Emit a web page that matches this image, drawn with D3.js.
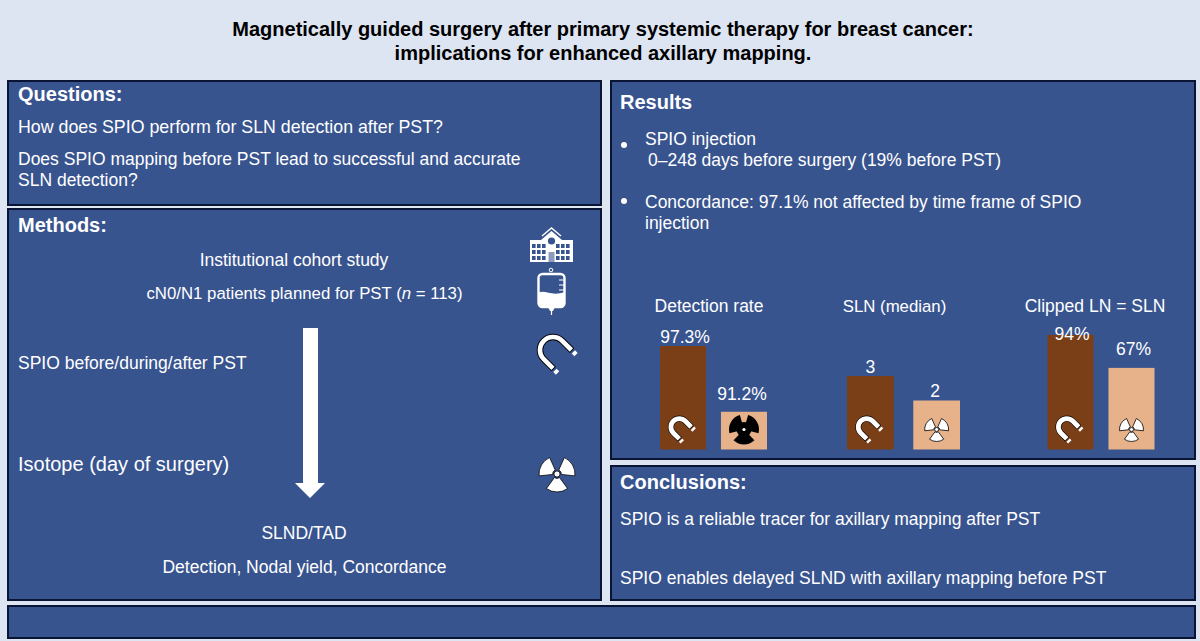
<!DOCTYPE html>
<html>
<head>
<meta charset="utf-8">
<script src="https://cdn.jsdelivr.net/npm/d3@7"></script>
<style>
    html, body { margin: 0; padding: 0; background: #dde4f2; }
    svg { display: block; }
    text { font-family: "Liberation Sans", Arial, sans-serif; fill: #fff; }
</style>
</head>
<body>
<svg id="chart" width="1200" height="641"></svg>
<script>
// Chart values
var groups = ['Detection rate', 'SLN (median)', 'Clipped LN = SLN'];
var tracers = ['SPIO', 'Isotope'];
var detectionRate = [97.3, 91.2];
var slnMedian = [3, 2];
var clippedLn = [94, 67];
var detectionLabels = ['97.3%', '91.2%'];
var slnLabels = ['3', '2'];
var clippedLabels = ['94%', '67%'];

(function() {
    var svg = d3.select('#chart');
    var panelFill = '#38548f', panelStroke = '#0a1533';
    var spioColor = '#7b3f17', isotopeColor = '#e7b189';

    // Panels
    [[8, 81, 593, 124], [8, 209, 593, 391], [611, 81, 584, 378], [611, 466, 584, 134], [8, 606, 1187, 32]].forEach(function(p) {
        svg.append('rect')
            .attr('x', p[0]).attr('y', p[1])
            .attr('width', p[2]).attr('height', p[3])
            .attr('fill', panelFill)
            .attr('stroke', panelStroke)
            .attr('stroke-width', 2);
    });

    var text = function(str, x, y, opts) {
        opts = opts || {};
        return svg.append('text')
            .attr('x', x).attr('y', y)
            .attr('font-size', opts.size || 17.5)
            .attr('font-weight', opts.bold ? 'bold' : 'normal')
            .attr('text-anchor', opts.anchor || 'start')
            .style('fill', opts.fill || '#fff')
            .text(str);
    };

    // Title
    text('Magnetically guided surgery after primary systemic therapy for breast cancer:', 603, 36, {size: 20, bold: true, anchor: 'middle', fill: '#000'});
    text('implications for enhanced axillary mapping.', 603, 60, {size: 20, bold: true, anchor: 'middle', fill: '#000'});

    // Questions
    text('Questions:', 18, 100.7, {size: 20, bold: true});
    text('How does SPIO perform for SLN detection after PST?', 18, 132.7, {size: 17.8});
    text('Does SPIO mapping before PST lead to successful and accurate', 18, 164.7);
    text('SLN detection?', 18, 185.7);

    // Methods
    text('Methods:', 18, 231.7, {size: 20, bold: true});
    text('Institutional cohort study', 294, 265.7, {anchor: 'middle'});
    var cohort = text('cN0/N1 patients planned for PST (', 304.5, 298.7, {anchor: 'middle', size: 16.8});
    cohort.append('tspan').attr('font-style', 'italic').text('n');
    cohort.append('tspan').text(' = 113)');
    text('SPIO before/during/after PST', 18, 368.7);
    text('Isotope (day of surgery)', 18, 471, {size: 20});
    text('SLND/TAD', 304, 538.7, {anchor: 'middle'});
    text('Detection, Nodal yield, Concordance', 304.5, 572.7, {anchor: 'middle'});

    svg.append('path')
        .attr('d', 'M303,328H318V483H325L310,498L295,483H303Z')
        .attr('fill', '#fff');

    // Results
    text('Results', 620, 108.7, {size: 20, bold: true});
    svg.selectAll('circle.bullet').data([145, 201]).enter().append('circle')
        .attr('class', 'bullet')
        .attr('cx', 624).attr('cy', function(d) { return d; })
        .attr('r', 3).attr('fill', '#fff');
    text('SPIO injection', 645, 144.7);
    text('0\u2013248 days before surgery (19% before PST)', 648, 165.7);
    text('Concordance: 97.1% not affected by time frame of SPIO', 645, 207.7);
    text('injection', 645, 228.7);

    // Conclusions
    text('Conclusions:', 620, 488.7, {size: 20, bold: true});
    text('SPIO is a reliable tracer for axillary mapping after PST', 620, 524.7);
    text('SPIO enables delayed SLND with axillary mapping before PST', 620, 583.7);

    // Icons
    var magnet = function(cx, cy, scale, band) {
        var g = svg.append('g')
            .attr('transform', 'translate(' + cx + ',' + cy + ') scale(' + scale + ') rotate(-45)');
        g.append('path').attr('d', 'M-14,15V0A14,14 0 0 1 14,0V15').attr('fill', 'none').attr('stroke', '#000').attr('stroke-width', band + 2);
        g.append('path').attr('d', 'M-14,14V0A14,14 0 0 1 14,0V14').attr('fill', 'none').attr('stroke', '#fff').attr('stroke-width', band);
        g.append('path').attr('d', 'M-14,17V21M14,17V21').attr('fill', 'none').attr('stroke', '#fff').attr('stroke-width', band);
    };

    var radiation = function(cx, cy, r, solid) {
        var g = svg.append('g').attr('transform', 'translate(' + cx + ',' + cy + ')');
        var halfWidth = (solid ? 44 : 36) * Math.PI / 180;
        var arc = d3.arc().innerRadius(solid ? 0 : r * 0.24).outerRadius(r);
        [-60, 60, 180].forEach(function(a) {
            var mid = a * Math.PI / 180;
            g.append('path')
                .attr('d', arc({startAngle: mid - halfWidth, endAngle: mid + halfWidth}))
                .attr('fill', solid ? '#000' : '#fff')
                .attr('stroke', '#000')
                .attr('stroke-width', solid ? 0 : 0.8);
        });
        if (solid) {
            g.append('circle').attr('r', r * 0.5).attr('fill', '#000');
        }
        g.append('circle')
            .attr('r', solid ? 1.6 : r * 0.17)
            .attr('fill', '#fff')
            .attr('stroke', solid ? 'none' : '#000')
            .attr('stroke-width', 0.8);
    };

    // Hospital
    (function() {
        var g = svg.append('g').attr('fill', '#fff');
        g.append('rect').attr('x', 530).attr('y', 240).attr('width', 43).attr('height', 22);
        g.append('path').attr('d', 'M541,240L551.5,231L562,240Z');
        g.append('path').attr('d', 'M542,236L551.5,228L561,236').attr('fill', 'none').attr('stroke', '#fff').attr('stroke-width', 1.4);
        g.append('circle').attr('cx', 551.5).attr('cy', 241).attr('r', 3.6).attr('fill', panelFill);
        [532, 537, 542, 556, 561, 566].forEach(function(x) {
            [244, 250, 256].forEach(function(y) {
                g.append('rect').attr('x', x).attr('y', y).attr('width', 3.6).attr('height', 4).attr('fill', panelFill);
            });
        });
        g.append('rect').attr('x', 548.5).attr('y', 252).attr('width', 6).attr('height', 10).attr('fill', '#8b9cc0');
    })();

    // IV bag
    (function() {
        var g = svg.append('g');
        g.append('circle').attr('cx', 551).attr('cy', 270).attr('r', 1.8)
            .attr('fill', 'none').attr('stroke', '#fff').attr('stroke-width', 1);
        g.append('rect').attr('x', 538.5).attr('y', 274).attr('width', 26).attr('height', 33).attr('rx', 4)
            .attr('fill', panelFill).attr('stroke', '#fff').attr('stroke-width', 2.4);
        g.append('path')
            .attr('d', 'M538,293C545,289 551,297 565,292V303Q565,307.5 560,307.5H543Q538,307.5 538,303Z')
            .attr('fill', '#fff');
        g.append('path').attr('d', 'M548,307H555L553,311H550Z').attr('fill', '#fff');
        g.append('path').attr('d', 'M551.5,311V315M559,280H564M559,285H564M559,290H564')
            .attr('stroke', '#fff').attr('stroke-width', 1.2);
    })();

    magnet(553, 350, 0.93, 5);
    radiation(557, 474, 18, false);

    // Bars: each group has its own scale in the poster
    var baseline = 449.5;
    var panels = [
        {name: groups[0], values: detectionRate, labels: detectionLabels, x0: 660, span: 107, pad: 0.245, titleX: 709, titleSize: 17.5, domain: [87.7, 97.3], top: 346, labelDx: [2, -2], labelDy: [-3, -12]},
        {name: groups[1], values: slnMedian, labels: slnLabels, x0: 847, span: 113, pad: 0.295, titleX: 894.5, titleSize: 16.8, domain: [0, 3], top: 376, labelDx: [0, -1.5], labelDy: [-3, -4]},
        {name: groups[2], values: clippedLn, labels: clippedLabels, x0: 1047.5, span: 107, pad: 0.245, titleX: 1095, titleSize: 17.5, domain: [0, 94], top: 335, labelDx: [1.5, 2], labelDy: [5, -13]}
    ];

    panels.forEach(function(panel) {
        var x = d3.scaleBand().domain(tracers).range([panel.x0, panel.x0 + panel.span]).paddingInner(panel.pad);
        var y = d3.scaleLinear().domain(panel.domain).range([baseline, panel.top]);

        text(panel.name, panel.titleX, 311.5, {anchor: 'middle', size: panel.titleSize});

        panel.values.forEach(function(v, i) {
            var t = tracers[i];
            var cx = x(t) + x.bandwidth() / 2;
            svg.append('rect')
                .attr('x', x(t)).attr('y', y(v))
                .attr('width', x.bandwidth()).attr('height', baseline - y(v))
                .attr('fill', i === 0 ? spioColor : isotopeColor);
            text(panel.labels[i], cx + panel.labelDx[i], y(v) + panel.labelDy[i], {anchor: 'middle'});

            if (i === 0) {
                magnet(cx - 3.7, 427, 0.6, 8);
            } else if (panel.name === groups[0]) {
                radiation(cx, 429.5, 15, true);
            } else {
                radiation(cx, 429.5, 12, false);
            }
        });
    });
})();
</script>
</body>
</html>
